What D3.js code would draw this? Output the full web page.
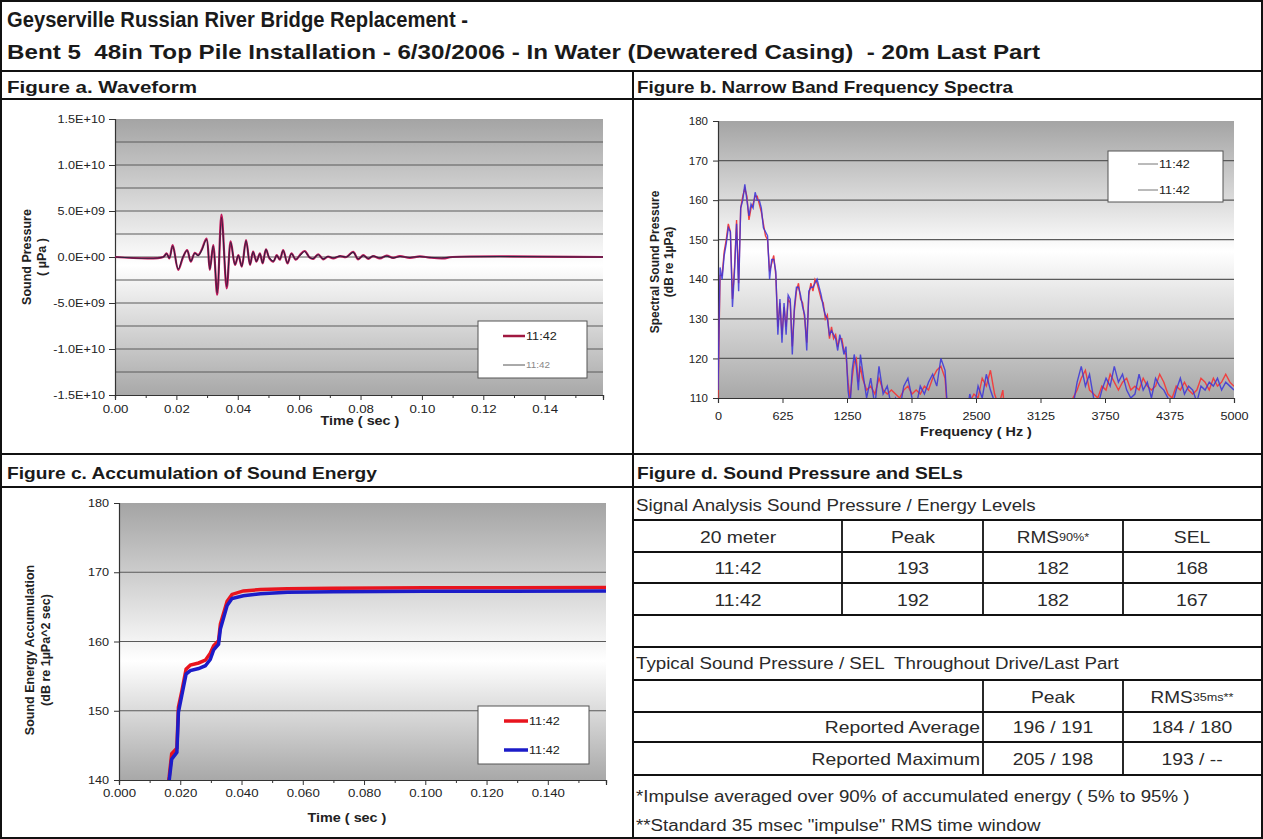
<!DOCTYPE html>
<html><head><meta charset="utf-8">
<script src="https://cdn.jsdelivr.net/npm/d3@7"></script>
<style>
body{margin:0;background:#fff}
svg{display:block}
text{font-family:"Liberation Sans",Arial,sans-serif;white-space:pre}
</style></head>
<body><svg id="c" width="1263" height="839"></svg>
<script>
// ---------------- DATA ----------------
const titleLine1 = "Geyserville Russian River Bridge Replacement -";
const titleLine2 = "Bent 5  48in Top Pile Installation - 6/30/2006 - In Water (Dewatered Casing)  - 20m Last Part";
const seriesNames = ["11:42", "11:42"];

// Figure a: waveform (time s, pressure in units of 1E9 µPa)
const waveTime = [0,0.0157,0.0168,0.0177,0.0188,0.0206,0.0222,0.0235,0.0247,0.0260,0.0271,0.0282,0.0298,0.0309,0.0320,0.0333,0.0347,0.0364,0.0377,0.0391,0.0402,0.0413,0.0427,0.0440,0.0450,0.0461,0.0472,0.0481,0.0492,0.0503,0.0516,0.0527,0.0537,0.0548,0.0562,0.0575,0.0589,0.0602,0.0618,0.0634,0.0646,0.0662,0.0678,0.0694,0.0711,0.0733,0.0754,0.0776,0.0792,0.0809,0.0825,0.0841,0.0863,0.0885,0.0906,0.0928,0.0961,0.0993,0.1026,0.1069,0.1100,0.159];
const waveA = [0,0,0.4,-0.15,1.3,-1.4,0,0.75,-0.5,0.45,0.2,0.75,2.0,-1.4,1.3,-4.1,4.6,-3.4,1.7,-0.87,0.2,-1.05,1.85,-0.87,0.58,-0.5,0.4,-0.7,0.83,-0.15,-0.5,0.2,-0.3,0.75,-0.7,0.4,-0.3,0.2,0.65,-0.05,-0.2,0.3,-0.25,0.05,-0.15,0.1,0,0.55,-0.25,0.2,-0.2,0.1,-0.15,0.15,-0.1,0.1,-0.1,0.07,-0.07,-0.15,0,0];
const waveB = [0,0,0.35,-0.1,1.2,-1.3,0.05,0.7,-0.45,0.4,0.15,0.7,1.9,-1.3,1.2,-3.9,4.3,-3.2,1.6,-0.8,0.15,-1.0,1.75,-0.8,0.55,-0.45,0.35,-0.65,0.8,-0.1,-0.45,0.15,-0.25,0.7,-0.65,0.35,-0.25,0.15,0.6,-0.05,-0.15,0.25,-0.2,0.05,-0.1,0.1,0,0.5,-0.2,0.15,-0.15,0.1,-0.1,0.1,-0.1,0.05,-0.05,0.05,-0.05,-0.1,0,0];
const waveYTicks = [-1.5e10,-1.0e10,-5e9,0,5e9,1.0e10,1.5e10];
const waveYLabels = ["-1.5E+10","-1.0E+10","-5.0E+09","0.0E+00","5.0E+09","1.0E+10","1.5E+10"];
const waveXTicks = [0,0.02,0.04,0.06,0.08,0.10,0.12,0.14];
const waveXLabels = ["0.00","0.02","0.04","0.06","0.08","0.10","0.12","0.14"];

// Figure b: narrow band spectra (Hz, dB re 1µPa)
const specFreq = [0,20,40,60,80,100,120,140,160,180,200,220,240,260,280,300,320,340,360,380,400,420,440,460,480,500,520,540,560,580,600,620,640,660,680,700,720,740,760,780,800,820,840,860,880,900,920,940,960,980,1000,1020,1040,1060,1080,1100,1120,1140,1160,1180,1200,1220,1240,1260,1280,1300,1320,1340,1360,1380,
1400,1440,1480,1520,1560,1600,1640,1680,1720,1760,1800,1840,1880,1920,1960,2000,2040,2080,2120,2160,2200,2240,2280,2320,2360,2400,2440,2480,2520,2560,2600,2640,2680,2720,2760,2800,2840,2880,2920,2960,3000,3040,3080,3120,3160,3200,3240,3280,3320,3360,3400,3440,3480,3520,3560,3600,3640,3680,3720,3760,3800,3840,3880,3920,3960,4000,4040,4080,4120,4160,4200,4240,4280,4320,4360,4400,4440,4480,4520,4560,4600,4640,4680,4720,4760,4800,4840,4880,4920,4960,5000];
const specRed = [110,141,141,147,150,154,152,135,143,155,139,158,161,163,161,155,158,159,161,161,159,157,154,151,150,142,144,146,141,128,134,126,133,128,135,134,123,132,137,139,135,134,130,124,136,139,137,140,139,137,135,134,130,131,125,128,125,126,123,125,125,122,121,114,110,115,119,120,114,118,
115,112,113,111,115,112,111,112,111,110,112,113,111,112,111,113,112,115,117,118,115,101,97,96,99,106,109,111,110,115,113,117,111,108,112,99,96,95,94,95,94,93,96,94,95,94,93,95,96,98,103,110,112,115,117,112,111,110,113,112,116,114,112,114,115,112,113,112,115,113,112,113,116,114,111,110,113,112,114,112,111,112,115,114,112,115,113,114,116,114,113];
const specBlue = [112,143,140,146,149,153,152,133,142,154,137,158,160,164,160,156,159,158,162,160,160,158,153,152,151,140,145,145,142,126,135,124,134,126,136,135,121,133,138,138,136,133,131,122,137,138,138,139,140,138,136,133,131,130,126,127,126,125,122,126,124,121,123,112,108,117,121,118,112,121,
117,110,115,108,118,111,113,108,110,107,113,115,110,108,113,111,114,116,113,120,117,100,96,95,98,104,111,107,113,110,116,112,109,103,98,96,95,94,95,93,92,94,95,93,94,92,95,96,94,97,101,108,114,118,113,116,110,108,112,115,113,118,114,116,112,110,111,116,112,114,110,115,113,112,110,108,112,115,111,113,112,109,113,112,114,113,115,112,114,113,112];
const specYTicks = [110,120,130,140,150,160,170,180];
const specXTicks = [0,625,1250,1875,2500,3125,3750,4375,5000];

// Figure c: accumulated sound energy (time s, dB re 1µPa^2 sec)
const energyTime = [0.0150,0.0164,0.0172,0.0189,0.0194,0.0205,0.0219,0.0233,0.0260,0.0282,0.0298,0.0309,0.0325,0.0331,0.0353,0.0369,0.0406,0.0462,0.0550,0.0700,0.1000,0.1590];
const energyRed  = [136,140.5,143.8,144.6,150.5,152.8,156.0,156.6,156.9,157.3,158.3,159.4,160.1,162.5,165.8,166.8,167.3,167.5,167.6,167.7,167.75,167.8];
const energyBlue = [135,140.0,143.0,144.0,149.8,152.2,155.3,155.8,156.1,156.5,157.4,158.8,159.6,161.8,165.2,166.2,166.6,166.9,167.1,167.2,167.25,167.3];
const energyYTicks = [140,150,160,170,180];
const energyXTicks = [0,0.02,0.04,0.06,0.08,0.10,0.12,0.14];
const energyXLabels = ["0.000","0.020","0.040","0.060","0.080","0.100","0.120","0.140"];

// Figure d: tables
const sigHeader = ["20 meter","Peak","RMS","SEL"];
const sigRows = [["11:42","193","182","168"],["11:42","192","182","167"]];
const typRows = [["Reported Average","196 / 191","184 / 180"],["Reported Maximum","205 / 198","193 / --"]];

// ---------------- DRAW ----------------
const svg = d3.select("#c");
const defs = svg.append("defs");
const WIDEN = 1.2;
function widen(sel, f){
  sel.each(function(){
    const w = this.getComputedTextLength();
    d3.select(this).attr("textLength", w*(f||WIDEN)).attr("lengthAdjust","spacingAndGlyphs");
  });
  return sel;
}

function addGradient(id, mid){
  const g = defs.append("linearGradient").attr("id",id).attr("x1",0).attr("y1",0).attr("x2",0).attr("y2",1);
  g.append("stop").attr("offset","0%").attr("stop-color","#a4a4a4");
  g.append("stop").attr("offset",mid+"%").attr("stop-color","#ffffff");
  g.append("stop").attr("offset","100%").attr("stop-color","#a8a8a8");
}
function plotBg(id, x0,x1,y0,y1, mid){
  addGradient(id+"g", mid);
  svg.append("rect").attr("x",x0).attr("y",y0).attr("width",x1-x0).attr("height",y1-y0).attr("fill",`url(#${id}g)`);
  defs.append("clipPath").attr("id",id+"c").append("rect").attr("x",x0).attr("y",y0-2).attr("width",x1-x0).attr("height",y1-y0+2);
}
function grid(vals, y, x0, x1){
  svg.append("g").selectAll("line").data(vals).join("line")
    .attr("x1",x0).attr("x2",x1).attr("y1",d=>y(d)).attr("y2",d=>y(d))
    .attr("stroke","#5a5a5a").attr("stroke-width",1.2);
}
function styleAxis(g, fs, wf){
  g.select(".domain").attr("stroke","#333").attr("stroke-width",1.2);
  g.selectAll(".tick line").attr("stroke","#333");
  const t = g.selectAll(".tick text").attr("font-size",(fs||11)+"px").attr("fill","#222").attr("font-family","'Liberation Sans',Arial,sans-serif");
  if (wf) widen(t, wf);
}
function yTitle(lines, xs, cy, size){
  lines.forEach((t,i)=>{
    svg.append("text").attr("transform",`translate(${xs[i]},${cy}) rotate(-90)`)
      .attr("text-anchor","middle").attr("dominant-baseline","central")
      .attr("font-size",size+"px").attr("font-weight","bold").attr("fill","#222").text(t);
  });
}
function xTitle(t, x, y){
  widen(svg.append("text").attr("x",x).attr("y",y).attr("text-anchor","middle").attr("font-size","12.5px").attr("font-weight","bold").attr("fill","#222").text(t), 1.15);
}
function legend(x,y,w,h,items){
  svg.append("rect").attr("x",x).attr("y",y).attr("width",w).attr("height",h).attr("fill","#fff").attr("stroke","#555").attr("stroke-width",1);
  items.forEach(it=>{
    svg.append("line").attr("x1",it.lx0).attr("x2",it.lx1).attr("y1",it.ly).attr("y2",it.ly)
      .attr("stroke",it.color).attr("stroke-width",it.w);
    widen(svg.append("text").attr("x",it.lx1+1).attr("y",it.ly).attr("dominant-baseline","central")
      .attr("font-size",it.fs+"px").attr("fill",it.tc).text(it.label), 1.1);
  });
}

// ---- Figure a ----
const xA = d3.scaleLinear().domain([0,0.159]).range([115,603]);
const yA = d3.scaleLinear().domain([-1.5e10,1.5e10]).range([395,119]);
plotBg("a",115,603,119,395,53);
grid(d3.range(-1.25e10,1.3e10,2.5e9), yA, 115, 603);
svg.append("g").attr("transform","translate(115,0)")
  .call(d3.axisLeft(yA).tickValues(waveYTicks).tickFormat((d,i)=>waveYLabels[i]).tickSize(6).tickPadding(4)).call(g=>styleAxis(g,11.5,1.1));
svg.append("g").attr("transform","translate(0,395)")
  .call(d3.axisBottom(xA).tickValues(waveXTicks).tickFormat((d,i)=>waveXLabels[i]).tickSize(5).tickPadding(5)).call(g=>styleAxis(g,11.5,1.15));
svg.append("g").attr("transform","translate(0,395)")
  .call(d3.axisBottom(xA).tickValues([0.01,0.03,0.05,0.07,0.09,0.11,0.13,0.15]).tickFormat("").tickSize(3)).call(styleAxis);
const lineA = d3.line().x((d,i)=>xA(waveTime[i])).y(d=>yA(d*1e9)).curve(d3.curveCatmullRom);
svg.append("path").datum(waveA).attr("d",lineA).attr("fill","none").attr("stroke","#c0185a").attr("stroke-width",2.2).attr("clip-path","url(#ac)");
svg.append("path").datum(waveB).attr("d",lineA).attr("fill","none").attr("stroke","#2b2340").attr("stroke-width",1.1).attr("clip-path","url(#ac)");
yTitle(["Sound Pressure","( µPa )"],[27,42],257,12.5);
xTitle("Time ( sec )",360,425);
legend(478,321,109,57,[
  {lx0:503,lx1:525,ly:336,color:"#a01840",w:2.5,label:seriesNames[0],fs:11.5,tc:"#222"},
  {lx0:503,lx1:525,ly:365,color:"#555",w:1,label:seriesNames[1],fs:9,tc:"#888"}
]);

// ---- Figure b ----
const xB = d3.scaleLinear().domain([0,5000]).range([718,1234]);
const yB = d3.scaleLinear().domain([110,180]).range([398,121]);
plotBg("b",718,1234,121,398,47);
grid([120,130,140,150,160,170], yB, 718, 1234);
svg.append("g").attr("transform","translate(718,0)")
  .call(d3.axisLeft(yB).tickValues(specYTicks).tickFormat(d3.format("d")).tickSize(5).tickPadding(5)).call(g=>styleAxis(g,11.5));
svg.append("g").attr("transform","translate(0,398)")
  .call(d3.axisBottom(xB).tickValues(specXTicks).tickFormat(d3.format("d")).tickSize(5).tickPadding(9)).call(g=>styleAxis(g,11.5,1.1));
const lineB = d3.line().x((d,i)=>xB(specFreq[i])).y(d=>yB(d));
svg.append("path").datum(specRed).attr("d",lineB).attr("fill","none").attr("stroke","#f04040").attr("stroke-width",1.4).attr("clip-path","url(#bc)");
svg.append("path").datum(specBlue).attr("d",lineB).attr("fill","none").attr("stroke","#3a34d8").attr("stroke-width",1.4).attr("stroke-opacity",0.85).attr("clip-path","url(#bc)");
yTitle(["Spectral Sound Pressure","(dB re 1µPa)"],[655,669],262,12);
xTitle("Frequency ( Hz )",976,436);
legend(1108,151,115,51,[
  {lx0:1138,lx1:1158,ly:164,color:"#777",w:1,label:seriesNames[0],fs:11.5,tc:"#222"},
  {lx0:1138,lx1:1158,ly:190,color:"#777",w:1,label:seriesNames[1],fs:11.5,tc:"#222"}
]);

// ---- Figure c ----
const xC = d3.scaleLinear().domain([0,0.159]).range([119,606]);
const yC = d3.scaleLinear().domain([140,180]).range([780,503]);
plotBg("cc",119,606,503,780,57);
grid([150,160,170], yC, 119, 606);
svg.append("g").attr("transform","translate(119,0)")
  .call(d3.axisLeft(yC).tickValues(energyYTicks).tickFormat(d3.format("d")).tickSize(5).tickPadding(5)).call(g=>styleAxis(g,11.5,1.1));
svg.append("g").attr("transform","translate(0,780)")
  .call(d3.axisBottom(xC).tickValues(energyXTicks).tickFormat((d,i)=>energyXLabels[i]).tickSize(5).tickPadding(4)).call(g=>styleAxis(g,11.5,1.15));
svg.append("g").attr("transform","translate(0,780)")
  .call(d3.axisBottom(xC).tickValues([0.01,0.03,0.05,0.07,0.09,0.11,0.13,0.15]).tickFormat("").tickSize(3)).call(styleAxis);
const lineC = d3.line().x((d,i)=>xC(energyTime[i])).y(d=>yC(d));
svg.append("path").datum(energyRed).attr("d",lineC).attr("fill","none").attr("stroke","#e8141e").attr("stroke-width",3.5).attr("clip-path","url(#ccc)");
svg.append("path").datum(energyBlue).attr("d",lineC).attr("fill","none").attr("stroke","#1c1cc8").attr("stroke-width",3.5).attr("clip-path","url(#ccc)");
yTitle(["Sound Energy Accumulation","(dB re 1µPa^2 sec)"],[30,46],650,12.5);
xTitle("Time ( sec )",347,822);
legend(478,706,111,58,[
  {lx0:504,lx1:528,ly:721,color:"#e8141e",w:3.5,label:seriesNames[0],fs:11.5,tc:"#222"},
  {lx0:504,lx1:528,ly:750,color:"#1c1cc8",w:3.5,label:seriesNames[1],fs:11.5,tc:"#222"}
]);

// ---- Frame & headers ----
const frame = svg.append("g").attr("stroke","#111").attr("fill","none");
frame.append("rect").attr("x",1).attr("y",1).attr("width",1261).attr("height",837).attr("stroke-width",2);
[[0,1263,71,2],[0,1263,99,2],[0,1263,454,2],[0,1263,487,2]].forEach(l=>
  frame.append("line").attr("x1",l[0]).attr("x2",l[1]).attr("y1",l[2]).attr("y2",l[2]).attr("stroke-width",l[3]));
frame.append("line").attr("x1",633).attr("x2",633).attr("y1",71).attr("y2",839).attr("stroke-width",2);

svg.append("text").attr("x",7).attr("y",27).attr("font-size","22px").attr("font-weight","bold").attr("fill","#1a1a1a")
  .attr("textLength",461).attr("lengthAdjust","spacingAndGlyphs").text(titleLine1);
svg.append("text").attr("x",7).attr("y",59).attr("font-size","20px").attr("font-weight","bold").attr("fill","#1a1a1a")
  .attr("textLength",1033).attr("lengthAdjust","spacingAndGlyphs").text(titleLine2);
const hdr = [["Figure a. Waveform",7,93,190],["Figure b. Narrow Band Frequency Spectra",637,93,376],["Figure c. Accumulation of Sound Energy",7,479,370],["Figure d. Sound Pressure and SELs",637,479,326]];
hdr.forEach(h=>svg.append("text").attr("x",h[1]).attr("y",h[2]).attr("font-size","16.5px").attr("font-weight","bold").attr("fill","#1a1a1a")
  .attr("textLength",h[3]).attr("lengthAdjust","spacingAndGlyphs").text(h[0]));

// ---- Figure d table ----
const T = svg.append("g");
const tl = (x1,x2,y,w)=>T.append("line").attr("x1",x1).attr("x2",x2).attr("y1",y).attr("y2",y).attr("stroke","#111").attr("stroke-width",w||1.8);
const vl = (x,y1,y2)=>T.append("line").attr("x1",x).attr("x2",x).attr("y1",y1).attr("y2",y2).attr("stroke","#111").attr("stroke-width",1.8);
[520,552,583,615,647,680,712,742,775].forEach(y=>tl(633,1263,y));
[842,983,1123].forEach(x=>vl(x,520,615));
[983,1123].forEach(x=>vl(x,680,775));
const tt = (x,y,s,anchor,fs)=>widen(T.append("text").attr("x",x).attr("y",y).attr("text-anchor",anchor||"middle")
  .attr("dominant-baseline","central").attr("font-size",(fs||16.5)+"px").attr("fill","#2a2a2a").text(s), 1.17);
tt(636,505,"Signal Analysis Sound Pressure / Energy Levels","start",16);
const colC = [738,913,1053,1192];
sigHeader.forEach((h,i)=>{ if(i!==2) tt(colC[i],537,h); });
const rms = T.append("text").attr("x",colC[2]).attr("y",537).attr("text-anchor","middle").attr("dominant-baseline","central").attr("font-size","16.5px").attr("fill","#2a2a2a");
rms.append("tspan").text(sigHeader[2]);
rms.append("tspan").attr("font-size","11px").text("90%*");
widen(rms, 1.15);
sigRows.forEach((r,j)=>r.forEach((v,i)=>tt(colC[i],568+j*31.5,v)));
tt(636,663,"Typical Sound Pressure / SEL  Throughout Drive/Last Part","start",16);
tt(colC[2],697,"Peak");
const rms2 = T.append("text").attr("x",colC[3]).attr("y",697).attr("text-anchor","middle").attr("dominant-baseline","central").attr("font-size","16.5px").attr("fill","#2a2a2a");
rms2.append("tspan").text("RMS");
rms2.append("tspan").attr("font-size","11px").text("35ms**");
widen(rms2, 1.15);
typRows.forEach((r,j)=>{
  tt(980,727+j*31.5,r[0],"end");
  tt(colC[2],727+j*31.5,r[1]);
  tt(colC[3],727+j*31.5,r[2]);
});
tt(636,796,"*Impulse averaged over 90% of accumulated energy ( 5% to 95% )","start",16);
tt(636,825,"**Standard 35 msec \"impulse\" RMS time window","start",16);
</script></body></html>
